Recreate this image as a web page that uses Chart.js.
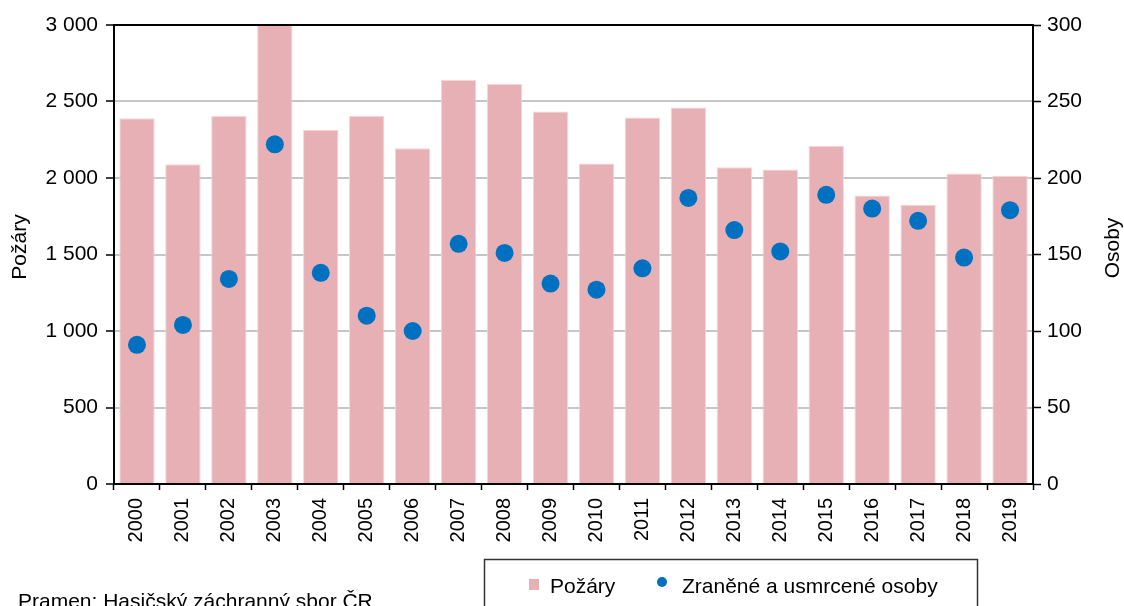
<!DOCTYPE html>
<html>
<head>
<meta charset="utf-8">
<script src="https://cdn.jsdelivr.net/npm/chart.js@4"></script>
<style>
  body { margin: 0; background: #fff; }
  canvas { display: block; }
</style>
</head>
<body>
<canvas id="chart" width="1124" height="606"></canvas>
<script>
const roky = ['2000','2001','2002','2003','2004','2005','2006','2007','2008','2009',
              '2010','2011','2012','2013','2014','2015','2016','2017','2018','2019'];
const pozary = [2390, 2090, 2405, 3000, 2315, 2405, 2195, 2640, 2615, 2435,
                2095, 2395, 2460, 2070, 2055, 2210, 1885, 1825, 2030, 2015];
const osoby = [91, 104, 134, 222, 138, 110, 100, 157, 151, 131,
               127, 141, 187, 166, 152, 189, 180, 172, 148, 179];
const levaOsa = [0, 500, 1000, 1500, 2000, 2500, 3000];
const pravaOsa = [0, 50, 100, 150, 200, 250, 300];

const FONT = "'Liberation Sans', Arial, sans-serif";
Chart.defaults.font.family = FONT;
Chart.defaults.color = '#000';

function cislo(v) {
    return String(v).replace(/\B(?=(\d{3})+(?!\d))/g, ' ');
}

// popisky os, legenda a zdroj
const doplnky = {
    id: 'doplnky',
    beforeDraw(chart) {
        const c = chart.ctx;
        c.save();
        c.fillStyle = '#fff';
        c.fillRect(0, 0, chart.width, chart.height);
        c.restore();
    },
    afterDraw(chart) {
        const c = chart.ctx;
        const a = chart.chartArea;
        c.save();
        // horni okraj grafu
        c.strokeStyle = '#000';
        c.lineWidth = 2;
        c.beginPath();
        c.moveTo(a.left, a.top);
        c.lineTo(a.right, a.top);
        c.stroke();

        c.fillStyle = '#000';
        c.font = '21px ' + FONT;
        c.textAlign = 'center';
        c.textBaseline = 'middle';
        c.translate(20, 247);
        c.rotate(-Math.PI / 2);
        c.fillText('Požáry', 0, 0);
        c.restore();

        c.save();
        c.fillStyle = '#000';
        c.font = '21px ' + FONT;
        c.textAlign = 'center';
        c.textBaseline = 'middle';
        c.translate(1113, 248);
        c.rotate(-Math.PI / 2);
        c.fillText('Osoby', 0, 0);
        c.restore();

        // legenda
        c.save();
        c.strokeStyle = '#333';
        c.lineWidth = 1.5;
        c.strokeRect(484.5, 559.5, 493, 60);
        c.fillStyle = '#e6b0b4';
        c.fillRect(529, 579, 10, 11);
        c.fillStyle = '#0070c0';
        c.beginPath();
        c.arc(662, 582, 5, 0, Math.PI * 2);
        c.fill();
        c.fillStyle = '#000';
        c.font = '21px ' + FONT;
        c.textAlign = 'left';
        c.textBaseline = 'alphabetic';
        c.fillText('Požáry', 550, 593);
        c.fillText('Zraněné a usmrcené osoby', 682, 593);
        c.fillText('Pramen: Hasičský záchranný sbor ČR', 18, 608);
        c.restore();
    }
};

new Chart(document.getElementById('chart'), {
    type: 'bar',
    data: {
        labels: roky,
        datasets: [{
            label: 'Požáry',
            data: pozary,
            backgroundColor: '#e6b0b4',
            borderColor: '#f4d6d8',
            borderWidth: 1,
            barPercentage: 0.77,
            categoryPercentage: 1,
            yAxisID: 'y',
            order: 2
        }, {
            type: 'line',
            label: 'Zraněné a usmrcené osoby',
            data: osoby,
            showLine: false,
            pointRadius: 9,
            pointHoverRadius: 9,
            pointBackgroundColor: '#0070c0',
            pointBorderColor: '#0070c0',
            pointBorderWidth: 0,
            yAxisID: 'y1',
            order: 1
        }]
    },
    options: {
        responsive: false,
        animation: false,
        layout: { padding: { top: 25, left: 0, right: 0, bottom: 0 } },
        plugins: {
            legend: { display: false },
            tooltip: { enabled: false }
        },
        scales: {
            x: {
                grid: {
                    drawOnChartArea: false,
                    drawTicks: true,
                    tickLength: 6,
                    tickColor: '#000',
                    tickWidth: 1.5
                },
                border: { color: '#000', width: 2 },
                ticks: {
                    font: { size: 20 },
                    minRotation: 90,
                    maxRotation: 90,
                    padding: 8,
                    autoSkip: false
                },
                afterFit(s) { s.height = 122; }
            },
            y: {
                position: 'left',
                min: 0,
                max: 3000,
                afterBuildTicks(s) { s.ticks = levaOsa.map(v => ({ value: v })); },
                grid: {
                    color: ctx => (ctx.tick && ctx.tick.value === 3000) ? '#000' : '#c6c6c6',
                    lineWidth: 2,
                    tickLength: 8,
                    tickColor: '#000',
                    tickWidth: 1.5
                },
                border: { color: '#000', width: 2 },
                ticks: {
                    font: { size: 21 },
                    padding: 8,
                    callback: v => cislo(v)
                },
                afterFit(s) { s.width = 114; }
            },
            y1: {
                position: 'right',
                min: 0,
                max: 300,
                afterBuildTicks(s) { s.ticks = pravaOsa.map(v => ({ value: v })); },
                grid: {
                    drawOnChartArea: false,
                    tickLength: 8,
                    tickColor: '#000',
                    tickWidth: 1.5
                },
                border: { color: '#000', width: 2 },
                ticks: {
                    font: { size: 21 },
                    padding: 6,
                    callback: v => cislo(v)
                },
                afterFit(s) { s.width = 91; }
            }
        }
    },
    plugins: [doplnky]
});
</script>
</body>
</html>
